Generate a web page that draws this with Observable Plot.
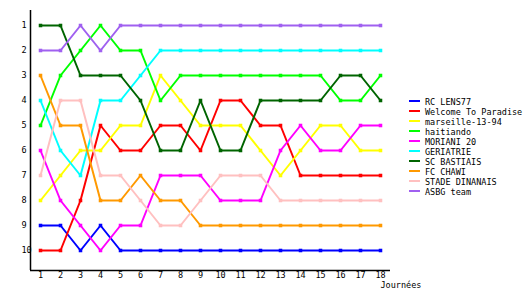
<!DOCTYPE html>
<html>
<head>
<meta charset="utf-8">
<script src="https://cdn.jsdelivr.net/npm/d3@7"></script>
<script src="https://cdn.jsdelivr.net/npm/@observablehq/plot@0.6"></script>
<style>
  html, body { margin: 0; padding: 0; background: #fff; }
  #wrap { position: relative; width: 530px; height: 300px; }
  #legend { position: absolute; left: 409px; top: 97px; font-family: "DejaVu Sans Mono", monospace; font-size: 8.5px; color: #000; }
  .row { position: relative; height: 10px; width: 120px; }
  .sw { position: absolute; left: 0; top: 3px; width: 11px; height: 2px; }
  .lb { position: absolute; left: 16px; top: 0; line-height: 10px; white-space: nowrap; }
</style>
</head>
<body>
<div id="wrap"><div id="legend"></div></div>
<script>
const rounds = [1,2,3,4,5,6,7,8,9,10,11,12,13,14,15,16,17,18];
const teams = ["RC LENS77","Welcome To Paradise","marseille-13-94","haitiando","MORIANI 20","GERIATRIE","SC BASTIAIS","FC CHAWI","STADE DINANAIS","ASBG team"];
const colors = ["#0000ff","#ff0000","#ffff00","#00ff00","#ff00ff","#00ffff","#006400","#ff9900","#ffc0c0","#a060f0"];
const rcLens      = [9,9,10,9,10,10,10,10,10,10,10,10,10,10,10,10,10,10];
const welcome     = [10,10,8,5,6,6,5,5,6,4,4,5,5,7,7,7,7,7];
const marseille   = [8,7,6,6,5,5,3,4,5,5,5,6,7,6,5,5,6,6];
const haitiando   = [5,3,2,1,2,2,4,3,3,3,3,3,3,3,3,4,4,3];
const moriani     = [6,8,9,10,9,9,7,7,7,8,8,8,6,5,6,6,5,5];
const geriatrie   = [4,6,7,4,4,3,2,2,2,2,2,2,2,2,2,2,2,2];
const bastiais    = [1,1,3,3,3,4,6,6,4,6,6,4,4,4,4,3,3,4];
const chawi       = [3,5,5,8,8,7,8,8,9,9,9,9,9,9,9,9,9,9];
const dinanais    = [7,4,4,7,7,8,9,9,8,7,7,7,8,8,8,8,8,8];
const asbg        = [2,2,1,2,1,1,1,1,1,1,1,1,1,1,1,1,1,1];
const yTicks = [1,2,3,4,5,6,7,8,9,10];
const xLabel = "Journées";

const series = [rcLens, welcome, marseille, haitiando, moriani, geriatrie, bastiais, chawi, dinanais, asbg];
const data = [];
series.forEach((vals, i) => vals.forEach((v, j) => data.push({team: teams[i], round: rounds[j], rank: v})));

const font = '"DejaVu Sans Mono", monospace';
const chart = Plot.plot({
  width: 530,
  height: 300,
  marginLeft: 30,
  marginRight: 140,
  marginTop: 10,
  marginBottom: 30,
  style: {fontFamily: font, fontSize: "8.5px", background: "#fff", color: "#000", overflow: "visible"},
  x: {domain: [0.5, 18.5]},
  y: {domain: [0.4, 10.8], reverse: true},
  color: {domain: teams, range: colors},
  marks: [
    Plot.axisY(yTicks, {tickSize: 0, tickPadding: 9, textAnchor: "start", label: null, fontSize: 8.5}),
    Plot.axisX(rounds, {tickSize: 0, tickPadding: 1, label: null, fontSize: 8.5}),
    Plot.ruleX([0.5], {stroke: "#000", strokeWidth: 1.5}),
    Plot.ruleY([10.8], {stroke: "#000", strokeWidth: 1.5}),
    Plot.line(data, {x: "round", y: "rank", z: "team", stroke: "team", strokeWidth: 2, curve: "linear"}),
    Plot.dot(data, {x: "round", y: "rank", fill: "team", symbol: "square", r: 2, stroke: null}),
    Plot.text([xLabel], {frameAnchor: "bottom-right", dx: -10, dy: 15, textAnchor: "start", lineAnchor: "middle", fill: "#000", fontSize: 8.5})
  ]
});
document.getElementById("wrap").prepend(chart);

const legend = document.getElementById("legend");
teams.forEach((t, i) => {
  const row = document.createElement("div");
  row.className = "row";
  row.innerHTML = `<div class="sw" style="background:${colors[i]}"></div><div class="lb"></div>`;
  row.querySelector(".lb").textContent = t;
  legend.appendChild(row);
});
</script>
</body>
</html>
